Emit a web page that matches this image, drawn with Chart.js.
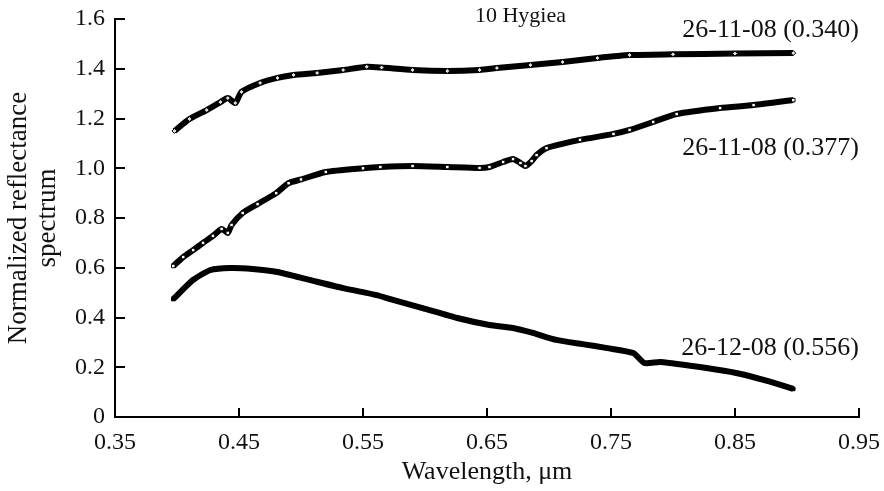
<!DOCTYPE html>
<html>
<head>
<meta charset="utf-8">
<script src="https://cdn.jsdelivr.net/npm/chart.js@4/dist/chart.umd.min.js"></script>
<style>
  html, body { margin: 0; padding: 0; background: #fff; }
  #wrap { width: 884px; height: 491px; }
</style>
</head>
<body>
<div id="wrap"><canvas id="spectrum-chart"></canvas></div>
<script>
// Spectra of 10 Hygiea (wavelength µm, normalized reflectance)
const WAVE_A = [0.398, 0.410, 0.424, 0.435, 0.441, 0.447, 0.452, 0.467, 0.481, 0.494, 0.513, 0.534, 0.553, 0.565,
  0.590, 0.618, 0.644, 0.658, 0.685, 0.711, 0.739, 0.765, 0.800, 0.850, 0.897]
const REFL_A = [1.150, 1.198, 1.234, 1.266, 1.282, 1.262, 1.307, 1.343, 1.363, 1.375, 1.383, 1.395, 1.408, 1.405,
  1.395, 1.391, 1.395, 1.403, 1.415, 1.427, 1.443, 1.455, 1.458, 1.461, 1.463]

const WAVE_B = [0.397, 0.405, 0.413, 0.421, 0.429, 0.436, 0.441, 0.444, 0.453, 0.465, 0.480, 0.490, 0.500, 0.520,
  0.550, 0.564, 0.590, 0.618, 0.644, 0.652, 0.663, 0.671, 0.677, 0.681, 0.686, 0.690, 0.698, 0.725, 0.752, 0.765,
  0.784, 0.803, 0.838, 0.865, 0.897]
const REFL_B = [0.607, 0.643, 0.671, 0.700, 0.728, 0.756, 0.740, 0.772, 0.820, 0.856, 0.900, 0.940, 0.955, 0.985,
  1.000, 1.005, 1.009, 1.005, 1.001, 1.005, 1.025, 1.037, 1.021, 1.009, 1.029, 1.053, 1.081, 1.114, 1.138, 1.154,
  1.186, 1.218, 1.242, 1.254, 1.274]

const WAVE_C = [0.397, 0.413, 0.427, 0.443, 0.461, 0.481, 0.507, 0.534, 0.561, 0.572, 0.598, 0.626, 0.652, 0.671,
  0.687, 0.706, 0.727, 0.747, 0.768, 0.777, 0.790, 0.827, 0.851, 0.876, 0.897]
const REFL_C = [0.474, 0.551, 0.591, 0.599, 0.595, 0.583, 0.551, 0.518, 0.490, 0.474, 0.438, 0.398, 0.370, 0.358,
  0.338, 0.310, 0.293, 0.277, 0.257, 0.217, 0.221, 0.197, 0.177, 0.145, 0.113]

const X_TICKS = [0.35, 0.45, 0.55, 0.65, 0.75, 0.85, 0.95]
const Y_TICKS = [0, 0.2, 0.4, 0.6, 0.8, 1.0, 1.2, 1.4, 1.6]

// text notes placed in data coordinates
const NOTES = [
  { text: '10 Hygiea', x: 0.677, y: 1.612, align: 'center', size: 22 },
  { text: '26-11-08 (0.340)', x: 0.95, y: 1.556, align: 'right', size: 26 },
  { text: '26-11-08 (0.377)', x: 0.95, y: 1.081, align: 'right', size: 26 },
  { text: '26-12-08 (0.556)', x: 0.95, y: 0.277, align: 'right', size: 26 },
]

const FONT = '"Liberation Serif", "Times New Roman", serif'
const pts = (xs, ys) => xs.map((x, i) => ({ x, y: ys[i] }))

// inward tick marks + notes
const decor = {
  id: 'decor',
  afterDraw(chart) {
    const { ctx, chartArea: a, scales: { x, y } } = chart
    ctx.save()
    ctx.strokeStyle = '#000'
    ctx.lineWidth = 2
    ctx.beginPath()
    X_TICKS.forEach(v => {
      const px = Math.round(x.getPixelForValue(v))
      ctx.moveTo(px, a.bottom); ctx.lineTo(px, a.bottom - 9)
    })
    Y_TICKS.forEach(v => {
      const py = Math.round(y.getPixelForValue(v))
      ctx.moveTo(a.left, py); ctx.lineTo(a.left + 10, py)
    })
    ctx.stroke()
    ctx.fillStyle = '#111'
    ctx.textBaseline = 'middle'
    NOTES.forEach(n => {
      ctx.font = `${n.size}px ${FONT}`
      ctx.textAlign = n.align
      ctx.fillText(n.text, x.getPixelForValue(n.x), y.getPixelForValue(n.y))
    })
    ctx.restore()
  },
}

const series = (data, style, fill) => ({
  data,
  borderColor: '#000',
  borderWidth: 6,
  tension: 0.2,
  pointStyle: style,
  pointRadius: 2.5,
  pointBackgroundColor: fill,
  pointBorderColor: '#000',
  pointBorderWidth: 1,
})

new Chart(document.getElementById('spectrum-chart'), {
  type: 'line',
  data: {
    datasets: [
      series(pts(WAVE_A, REFL_A), 'rectRot', '#ddd'),
      series(pts(WAVE_B, REFL_B), 'rect', '#fff'),
      series(pts(WAVE_C, REFL_C), 'rect', '#000'),
    ],
  },
  options: {
    responsive: true,
    maintainAspectRatio: false,
    animation: false,
    layout: { padding: { left: 0, right: 25, top: 19, bottom: 0 } },
    plugins: { legend: { display: false }, tooltip: { enabled: false } },
    scales: {
      x: {
        type: 'linear',
        min: 0.35,
        max: 0.95,
        afterBuildTicks: s => { s.ticks = X_TICKS.map(v => ({ value: v })) },
        afterFit: s => { s.height = 74; s.paddingLeft = 0; s.paddingRight = 0 },
        grid: { display: false, drawTicks: false },
        border: { display: true, color: '#000', width: 2 },
        ticks: { color: '#111', padding: 11, maxRotation: 0, font: { family: FONT, size: 24 }, callback: v => v.toFixed(2) },
        title: { display: true, text: 'Wavelength, μm', color: '#111', padding: { top: 0, bottom: 3 }, font: { family: FONT, size: 26 } },
      },
      y: {
        type: 'linear',
        min: 0,
        max: 1.6,
        afterBuildTicks: s => { s.ticks = Y_TICKS.map(v => ({ value: v })) },
        afterFit: s => { s.width = 115; s.paddingTop = 0; s.paddingBottom = 0 },
        grid: { display: false, drawTicks: false },
        border: { display: true, color: '#000', width: 2 },
        ticks: { color: '#111', padding: 10, font: { family: FONT, size: 24 }, callback: v => (v === 0 ? '0' : v.toFixed(1)) },
        title: {
          display: true,
          text: ['Normalized reflectance', 'spectrum'],
          color: '#111',
          padding: { top: 5, bottom: 0 },
          font: { family: FONT, size: 27, lineHeight: 1.05 },
        },
      },
    },
  },
  plugins: [decor],
})
</script>
</body>
</html>
